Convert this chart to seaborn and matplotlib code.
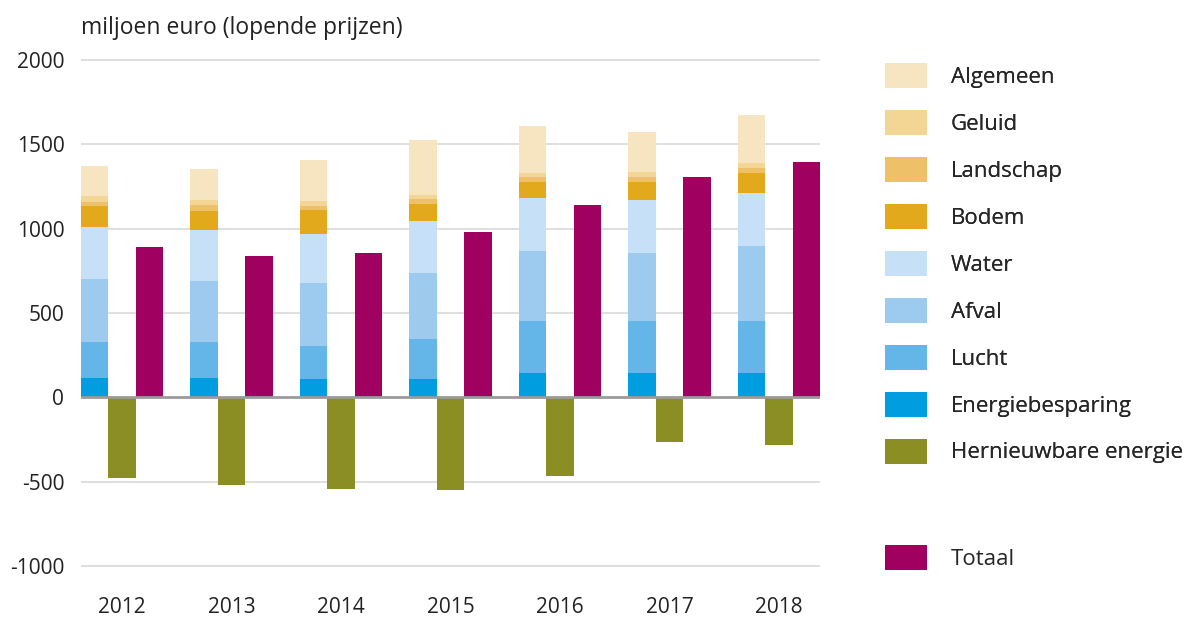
import numpy as np
import matplotlib
matplotlib.use("Agg")
import matplotlib.pyplot as plt
import seaborn as sns
from matplotlib.patches import Patch

# data (miljoen euro, lopende prijzen)
years = ["2012", "2013", "2014", "2015", "2016", "2017", "2018"]
energiebesparing = [118, 118, 109, 112, 144, 144, 144]
lucht = [212, 212, 197, 237, 310, 306, 306]
afval = [374, 360, 371, 387, 414, 408, 444]
water = [308, 302, 290, 310, 315, 312, 319]
bodem = [122, 113, 142, 98, 93, 106, 118]
landschap = [26, 35, 25, 30, 30, 30, 30]
geluid = [30, 28, 30, 25, 25, 31, 26]
algemeen = [181, 187, 241, 326, 277, 237, 286]
hernieuwbaar = [-476, -516, -540, -546, -467, -265, -282]
totaal = [893, 838, 858, 980, 1140, 1306, 1395]

stack_names = ["Energiebesparing", "Lucht", "Afval", "Water", "Bodem",
               "Landschap", "Geluid", "Algemeen"]
stack_values = [energiebesparing, lucht, afval, water, bodem,
                landschap, geluid, algemeen]
stack_colors = ["#009ee0", "#65b6e8", "#9dcbf0", "#c6e1f7", "#e3a91c",
                "#eec067", "#f3d596", "#f7e4c0"]
color_hern = "#8b8e22"
color_tot = "#a00060"

sns.set_style("white")
plt.rcParams["font.family"] = ["Open Sans", "DejaVu Sans"]

fig = plt.figure(figsize=(11.96, 6.18), dpi=100)
ax = fig.add_axes([81 / 1196, 28 / 618, 739 / 1196, 532 / 618])

x = np.arange(len(years))
w = 0.25

# stacked positive components
bottom = np.zeros(len(years))
for name, vals, col in zip(stack_names, stack_values, stack_colors):
    ax.bar(x - w, vals, width=w, bottom=bottom, color=col, linewidth=0, zorder=3)
    bottom += np.array(vals)

# renewable energy (negative) and total
sns.barplot(x=x.astype(float), y=hernieuwbaar, native_scale=True, width=w,
            color=color_hern, saturation=1, errorbar=None, linewidth=0,
            ax=ax, zorder=3)
sns.barplot(x=x + w, y=totaal, native_scale=True, width=w,
            color=color_tot, saturation=1, errorbar=None, linewidth=0,
            ax=ax, zorder=3)

ax.set_xlim(-1.5 * w, len(years) - 1 + 1.5 * w)
ax.set_ylim(-1140, 2010)
ax.set_yticks([-1000, -500, 0, 500, 1000, 1500, 2000])
ax.set_yticklabels(["-1000", "-500", "0", "500", "1000", "1500", "2000"])
ax.set_xticks(x)
ax.set_xticklabels(years)
ax.tick_params(axis="both", length=0, labelsize=15, colors="#222222")
ax.tick_params(axis="x", pad=5)
ax.tick_params(axis="y", pad=12)
ax.set_xlabel("")
ax.set_ylabel("")
for t in [-1000, -500, 500, 1000, 1500, 2000]:
    ax.axhline(t, color="#dcdcdc", lw=1.3, zorder=1)
ax.axhline(0, color="#9a9a9a", lw=2, zorder=4)
sns.despine(ax=ax, left=True, bottom=True)

fig.text(81 / 1196, 1 - 28 / 618, "miljoen euro (lopende prijzen)",
         fontsize=16.5, color="#222222", va="center", ha="left")

# legend
leg_names = stack_names[::-1] + ["Hernieuwbare energie"]
leg_colors = stack_colors[::-1] + [color_hern]
handles = [Patch(facecolor=c, edgecolor="none", label=n)
           for n, c in zip(leg_names, leg_colors)]
leg_kw = dict(loc="upper left", frameon=False, fontsize=16, handlelength=1.9,
              handleheight=1.35, handletextpad=1.05, borderpad=0,
              borderaxespad=0)
leg1 = fig.legend(handles=handles, bbox_to_anchor=(885 / 1196, 1 - 63 / 618),
                  labelspacing=0.99, **leg_kw)
fig.legend(handles=[Patch(facecolor=color_tot, edgecolor="none", label="Totaal")],
           bbox_to_anchor=(885 / 1196, 1 - 545 / 618), **leg_kw)
fig.add_artist(leg1)

fig.savefig("out.png", dpi=100)
